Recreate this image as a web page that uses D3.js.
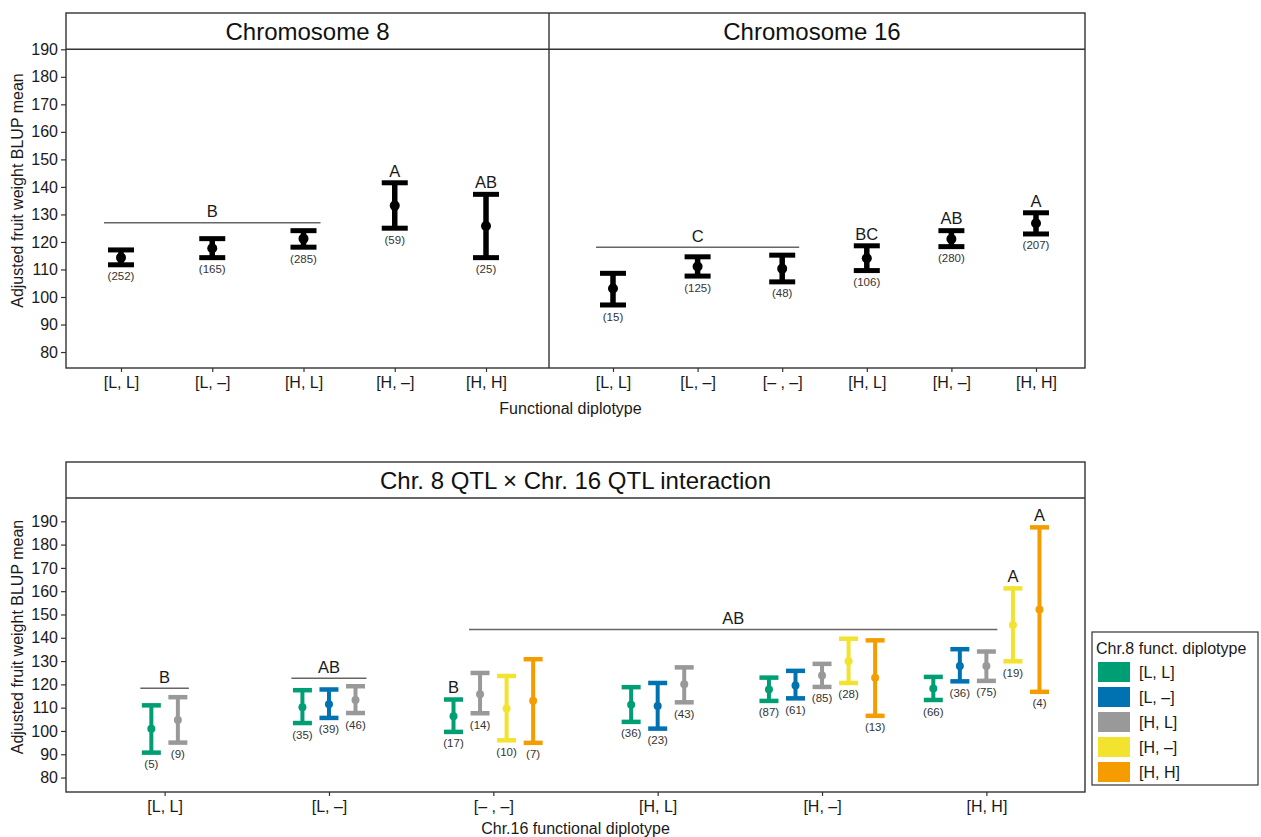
<!DOCTYPE html>
<html>
<head>
<meta charset="utf-8">
<script src="https://cdn.jsdelivr.net/npm/d3@7/dist/d3.min.js"></script>
<style>
  body { margin: 0; background: #fff; }
  text { font-family: "Liberation Sans", Arial, sans-serif; }
</style>
</head>
<body>
<svg id="chart" width="1261" height="837"></svg>
<script>
// ---- data ----
const yTicks = [80, 90, 100, 110, 120, 130, 140, 150, 160, 170, 180, 190];

// Chromosome 8 (top left)
const chr8Cats = ["[L, L]", "[L, –]", "[H, L]", "[H, –]", "[H, H]"];
const chr8Mean = [114.3, 117.7, 121.2, 133.2, 125.8];
const chr8Lo   = [111.7, 114.3, 118.1, 125.0, 114.3];
const chr8Hi   = [117.1, 121.2, 124.1, 141.5, 137.3];
const chr8N    = [252, 165, 285, 59, 25];
const chr8Letter = ["", "", "", "A", "AB"];
const chr8Group = { label: "B", from: "[L, L]", to: "[H, L]", y: 127.0 };

// Chromosome 16 (top right)
const chr16Cats = ["[L, L]", "[L, –]", "[– , –]", "[H, L]", "[H, –]", "[H, H]"];
const chr16Mean = [103.1, 111.1, 110.3, 114.1, 121.1, 126.8];
const chr16Lo   = [97.1, 107.6, 105.5, 109.6, 118.3, 122.9];
const chr16Hi   = [108.6, 114.6, 115.2, 118.6, 124.1, 130.6];
const chr16N    = [15, 125, 48, 106, 280, 207];
const chr16Letter = ["", "", "", "BC", "AB", "A"];
const chr16Group = { label: "C", from: "[L, L]", to: "[– , –]", y: 118.1 };

// Interaction (bottom)
const legendCats = ["[L, L]", "[L, –]", "[H, L]", "[H, –]", "[H, H]"];
const legendColors = ["#009E73", "#0072B2", "#999999", "#F2E32E", "#F59D00"];
const intChr16 = ["[L, L]", "[L, L]",
  "[L, –]", "[L, –]", "[L, –]",
  "[– , –]", "[– , –]", "[– , –]", "[– , –]",
  "[H, L]", "[H, L]", "[H, L]",
  "[H, –]", "[H, –]", "[H, –]", "[H, –]", "[H, –]",
  "[H, H]", "[H, H]", "[H, H]", "[H, H]", "[H, H]"];
const intChr8 = ["[L, L]", "[H, L]",
  "[L, L]", "[L, –]", "[H, L]",
  "[L, L]", "[H, L]", "[H, –]", "[H, H]",
  "[L, L]", "[L, –]", "[H, L]",
  "[L, L]", "[L, –]", "[H, L]", "[H, –]", "[H, H]",
  "[L, L]", "[L, –]", "[H, L]", "[H, –]", "[H, H]"];
const intMean = [100.9, 104.7, 110.2, 111.5, 113.3, 106.3, 115.8, 109.6, 113.0,
  111.3, 110.7, 120.0, 117.8, 119.5, 123.8, 129.9, 122.8, 118.2, 127.9, 127.9, 145.5, 152.1];
const intLo = [90.7, 95.0, 103.4, 105.6, 107.7, 99.6, 107.6, 96.0, 94.9,
  103.9, 101.0, 112.3, 112.9, 114.0, 118.9, 120.6, 106.5, 113.3, 121.3, 121.5, 129.9, 116.8];
const intHi = [111.0, 114.5, 117.5, 117.8, 119.2, 113.5, 124.9, 123.6, 130.8,
  118.8, 120.6, 127.3, 122.9, 125.8, 128.8, 139.6, 138.9, 123.2, 135.1, 134.1, 161.2, 187.4];
const intN = [5, 9, 35, 39, 46, 17, 14, 10, 7, 36, 23, 43, 87, 61, 85, 28, 13, 66, 36, 75, 19, 4];
const intLetter = ["", "", "", "", "", "B", "", "", "", "", "", "", "", "", "", "", "", "", "", "", "A", "A"];
const intGroups = [
  { label: "B",  from: ["[L, L]", "[L, L]"],  to: ["[L, L]", "[H, L]"], y: 118.3 },
  { label: "AB", from: ["[L, –]", "[L, L]"],  to: ["[L, –]", "[H, L]"], y: 122.6 },
  { label: "AB", from: ["[– , –]", "[H, L]"], to: ["[H, H]", "[H, L]"], y: 143.5 }
];

// ---- drawing ----
const svg = d3.select("#chart");
const ink = "#1a1a1a";
const border = "#333";

function drawErrorBar(g, x, y, mean, lo, hi, color, s) {
  g.append("line")
    .attr("x1", x).attr("x2", x)
    .attr("y1", y(lo)).attr("y2", y(hi))
    .attr("stroke", color).attr("stroke-width", s.lw);
  [lo, hi].forEach(v => {
    g.append("line")
      .attr("x1", x - s.cap / 2).attr("x2", x + s.cap / 2)
      .attr("y1", y(v)).attr("y2", y(v))
      .attr("stroke", color).attr("stroke-width", s.capLw);
  });
  g.append("circle").attr("cx", x).attr("cy", y(mean)).attr("r", s.r).attr("fill", color);
}

function nLabel(g, x, yPix, n) {
  g.append("text").attr("x", x).attr("y", yPix + 11.5).attr("dy", "0.35em")
    .attr("text-anchor", "middle").attr("font-size", 11.5).attr("fill", "#333")
    .text("(" + n + ")");
}

function letter(g, x, yPix, t) {
  g.append("text").attr("x", x).attr("y", yPix - 12).attr("dy", "0.35em")
    .attr("text-anchor", "middle").attr("font-size", 16.5).attr("fill", ink)
    .text(t);
}

function groupLine(g, x1, x2, yPix, t) {
  g.append("line").attr("x1", x1).attr("x2", x2).attr("y1", yPix).attr("y2", yPix)
    .attr("stroke", "#666").attr("stroke-width", 1.5);
  letter(g, (x1 + x2) / 2, yPix + 1, t);
}

function styleAxis(sel, size) {
  sel.select(".domain").remove();
  sel.selectAll(".tick line").attr("stroke", border).attr("stroke-width", 1.2);
  sel.selectAll(".tick text").attr("font-size", size).attr("fill", ink)
    .style("font-family", '"Liberation Sans", Arial, sans-serif');
}

// ===== top figure =====
const T = { top: 13, strip: 49.3, bottom: 368, left: 66, mid: 549, right: 1085 };
const yTop = d3.scaleLinear().domain([74.2, 190]).range([T.bottom, T.strip]);
const x8 = d3.scalePoint().domain(chr8Cats).range([T.left + 55, T.mid - 63]);
const x16 = d3.scalePoint().domain(chr16Cats).range([T.mid + 64, T.right - 49]);
const blackStyle = { lw: 5.5, cap: 26, capLw: 5, r: 5 };

const topG = svg.append("g");

// y axis
topG.append("g").attr("transform", `translate(${T.left},0)`)
  .call(d3.axisLeft(yTop).tickValues(yTicks).tickSize(5).tickPadding(3))
  .call(s => styleAxis(s, 16));
// x axes
topG.append("g").attr("transform", `translate(0,${T.bottom})`)
  .call(d3.axisBottom(x8).tickSize(4).tickPadding(5))
  .call(s => styleAxis(s, 16));
topG.append("g").attr("transform", `translate(0,${T.bottom})`)
  .call(d3.axisBottom(x16).tickSize(4).tickPadding(5))
  .call(s => styleAxis(s, 16));

// marks chr8
chr8Cats.forEach((c, i) => {
  drawErrorBar(topG, x8(c), yTop, chr8Mean[i], chr8Lo[i], chr8Hi[i], "#000", blackStyle);
  nLabel(topG, x8(c), yTop(chr8Lo[i]), chr8N[i]);
  if (chr8Letter[i]) letter(topG, x8(c), yTop(chr8Hi[i]), chr8Letter[i]);
});
groupLine(topG, x8(chr8Group.from) - 17, x8(chr8Group.to) + 17, yTop(chr8Group.y), chr8Group.label);

// marks chr16
chr16Cats.forEach((c, i) => {
  drawErrorBar(topG, x16(c), yTop, chr16Mean[i], chr16Lo[i], chr16Hi[i], "#000", blackStyle);
  nLabel(topG, x16(c), yTop(chr16Lo[i]), chr16N[i]);
  if (chr16Letter[i]) letter(topG, x16(c), yTop(chr16Hi[i]), chr16Letter[i]);
});
groupLine(topG, x16(chr16Group.from) - 17, x16(chr16Group.to) + 17, yTop(chr16Group.y), chr16Group.label);

// frames
topG.append("rect").attr("x", T.left).attr("y", T.top)
  .attr("width", T.right - T.left).attr("height", T.bottom - T.top)
  .attr("fill", "none").attr("stroke", border).attr("stroke-width", 1.4);
topG.append("line").attr("x1", T.left).attr("x2", T.right).attr("y1", T.strip).attr("y2", T.strip)
  .attr("stroke", border).attr("stroke-width", 1.4);
topG.append("line").attr("x1", T.mid).attr("x2", T.mid).attr("y1", T.top).attr("y2", T.bottom)
  .attr("stroke", border).attr("stroke-width", 1.4);

topG.append("text").attr("x", (T.left + T.mid) / 2).attr("y", (T.top + T.strip) / 2).attr("dy", "0.36em")
  .attr("text-anchor", "middle").attr("font-size", 24).attr("fill", "#111").text("Chromosome 8");
topG.append("text").attr("x", (T.mid + T.right) / 2 - 5).attr("y", (T.top + T.strip) / 2).attr("dy", "0.36em")
  .attr("text-anchor", "middle").attr("font-size", 24).attr("fill", "#111").text("Chromosome 16");

topG.append("text").attr("x", (T.left + T.right) / 2 - 5).attr("y", 408).attr("dy", "0.35em")
  .attr("text-anchor", "middle").attr("font-size", 16).attr("fill", ink).text("Functional diplotype");
topG.append("text").attr("transform", `translate(17,${(T.top + T.bottom) / 2}) rotate(-90)`)
  .attr("dy", "0.35em").attr("text-anchor", "middle").attr("font-size", 16).attr("fill", ink)
  .text("Adjusted fruit weight BLUP mean");

// ===== bottom figure =====
const B = { top: 462, strip: 498, bottom: 792, left: 66, right: 1085 };
const yBot = d3.scaleLinear().domain([73.8, 200]).range([B.bottom, B.strip]);
const xInt = d3.scalePoint().domain(chr16Cats).range([B.left, B.right]).padding(0.6);
const color = d3.scaleOrdinal().domain(legendCats).range(legendColors);
const dodge = xInt.step() * 0.1615;
const colStyle = { lw: 4, cap: 19, capLw: 4.5, r: 4 };

const botG = svg.append("g");

botG.append("g").attr("transform", `translate(${B.left},0)`)
  .call(d3.axisLeft(yBot).tickValues(yTicks).tickSize(5).tickPadding(3))
  .call(s => styleAxis(s, 16));
botG.append("g").attr("transform", `translate(0,${B.bottom})`)
  .call(d3.axisBottom(xInt).tickSize(4).tickPadding(5))
  .call(s => styleAxis(s, 16));

// dodge position of each bar
function xPos(c16, c8) {
  const members = intChr8.filter((d, i) => intChr16[i] === c16);
  const k = members.indexOf(c8);
  return xInt(c16) + (k - (members.length - 1) / 2) * dodge;
}

intMean.forEach((m, i) => {
  const x = xPos(intChr16[i], intChr8[i]);
  drawErrorBar(botG, x, yBot, m, intLo[i], intHi[i], color(intChr8[i]), colStyle);
  nLabel(botG, x, yBot(intLo[i]), intN[i]);
  if (intLetter[i]) letter(botG, x, yBot(intHi[i]), intLetter[i]);
});

intGroups.forEach(gr => {
  groupLine(botG, xPos(gr.from[0], gr.from[1]) - 11, xPos(gr.to[0], gr.to[1]) + 11, yBot(gr.y), gr.label);
});

botG.append("rect").attr("x", B.left).attr("y", B.top)
  .attr("width", B.right - B.left).attr("height", B.bottom - B.top)
  .attr("fill", "none").attr("stroke", border).attr("stroke-width", 1.4);
botG.append("line").attr("x1", B.left).attr("x2", B.right).attr("y1", B.strip).attr("y2", B.strip)
  .attr("stroke", border).attr("stroke-width", 1.4);
botG.append("text").attr("x", (B.left + B.right) / 2).attr("y", (B.top + B.strip) / 2).attr("dy", "0.36em")
  .attr("text-anchor", "middle").attr("font-size", 24).attr("fill", "#111")
  .text("Chr. 8 QTL × Chr. 16 QTL interaction");

botG.append("text").attr("x", (B.left + B.right) / 2).attr("y", 828).attr("dy", "0.35em")
  .attr("text-anchor", "middle").attr("font-size", 16).attr("fill", ink).text("Chr.16 functional diplotype");
botG.append("text").attr("transform", `translate(17,637) rotate(-90)`)
  .attr("dy", "0.35em").attr("text-anchor", "middle").attr("font-size", 16).attr("fill", ink)
  .text("Adjusted fruit weight BLUP mean");

// legend
const leg = svg.append("g").attr("transform", "translate(1092,632)");
leg.append("rect").attr("width", 166).attr("height", 153)
  .attr("fill", "#fff").attr("stroke", border).attr("stroke-width", 1.2);
leg.append("text").attr("x", 4).attr("y", 16).attr("dy", "0.35em")
  .attr("font-size", 16).attr("fill", ink).text("Chr.8 funct. diplotype");
legendCats.forEach((c, i) => {
  leg.append("rect").attr("x", 6).attr("y", 30 + i * 25).attr("width", 32).attr("height", 20)
    .attr("fill", color(c));
  leg.append("text").attr("x", 47).attr("y", 40 + i * 25).attr("dy", "0.35em")
    .attr("font-size", 16).attr("fill", ink).text(c);
});
</script>
</body>
</html>
